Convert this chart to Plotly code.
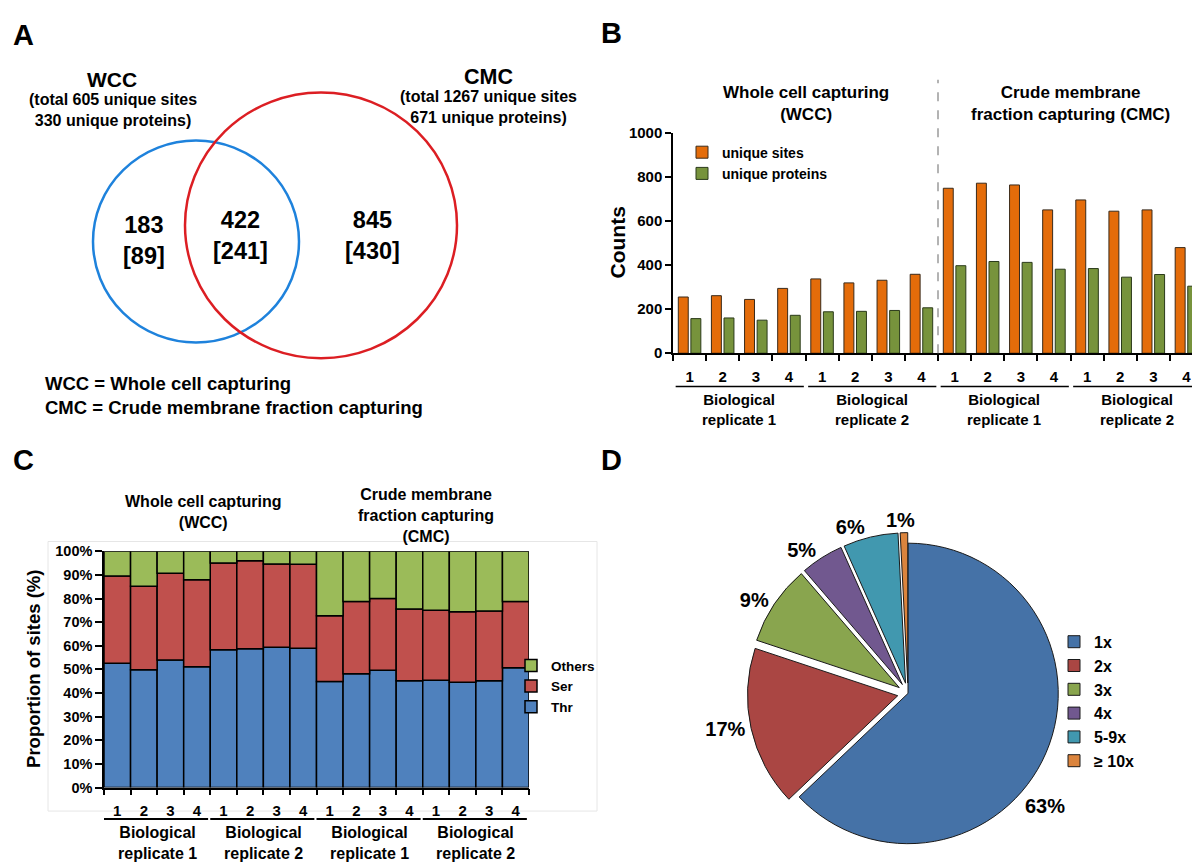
import numpy as np
import plotly.graph_objects as go

W, H = 1200, 864
FONT = "Liberation Sans, Arial, sans-serif"


def px(x):
    return x / W


def py(y):
    return 1 - y / H


# =========================================================
# DATA
# =========================================================
# Panel A: Venn counts, sites [proteins]
wcc_only = (183, 89)
both = (422, 241)
cmc_only = (845, 430)
wcc_total = (605, 330)
cmc_total = (1267, 671)

# Panel B: unique sites / proteins per run
run_labels = ["1", "2", "3", "4"] * 4
group_labels = ["Biological<br>replicate 1", "Biological<br>replicate 2"] * 2
unique_sites = [255, 261, 244, 294, 337, 319, 331, 358,
                748, 771, 763, 650, 695, 644, 650, 479]
unique_proteins = [157, 160, 150, 172, 188, 190, 194, 206,
                   397, 416, 412, 381, 384, 345, 357, 304]

# Panel C: residue proportions (%)
thr = [52.6, 49.9, 54.0, 51.1, 58.3, 58.7, 59.4, 59.0,
       44.9, 48.2, 49.6, 45.2, 45.4, 44.6, 45.2, 50.7]
ser = [36.9, 35.3, 36.7, 36.9, 36.7, 37.3, 35.2, 35.5,
       27.8, 30.5, 30.4, 30.4, 29.6, 29.8, 29.5, 28.0]
others = [10.5, 14.8, 9.3, 12.0, 5.0, 4.0, 5.4, 5.5,
          27.3, 21.3, 20.0, 24.4, 25.0, 25.6, 25.3, 21.3]
pct_ticks = list(range(0, 101, 10))

# Panel D: how often a site was identified
pie_labels = ["1x", "2x", "3x", "4x", "5-9x", "\u2265 10x"]
pie_values = [62.9, 17.2, 8.6, 4.6, 5.9, 0.8]

# =========================================================
# STYLE
# =========================================================
ORANGE, GREEN_B = "#E46C0A", "#77933C"
C_BLUE, C_RED, C_GREEN = "#4F81BD", "#C0504D", "#9BBB59"
pie_colors = ["#4572A7", "#AA4643", "#89A54E", "#71588F", "#4198AF", "#DB843D"]

x_idx = np.arange(len(run_labels))

fig = go.Figure()

# ---------------- Panel B ----------------
fig.add_trace(go.Bar(
    x=x_idx, y=unique_sites, name="unique sites",
    width=0.3, offset=-0.34,
    marker=dict(color=ORANGE, line=dict(color="#3a2a1a", width=1)),
    xaxis="x", yaxis="y", legend="legend"
))
fig.add_trace(go.Bar(
    x=x_idx, y=unique_proteins, name="unique proteins",
    width=0.3, offset=0.04,
    marker=dict(color=GREEN_B, line=dict(color="#2a3a1a", width=1)),
    xaxis="x", yaxis="y", legend="legend"
))

# ---------------- Panel C ----------------
thr_a, ser_a, oth_a = np.array(thr), np.array(ser), np.array(others)
for vals, base, name, col in [
    (thr_a, np.zeros_like(thr_a), "Thr", C_BLUE),
    (ser_a, thr_a, "Ser", C_RED),
    (oth_a, thr_a + ser_a, "Others", C_GREEN),
]:
    fig.add_trace(go.Bar(
        x=x_idx, y=vals, base=base, name=name, width=1,
        marker=dict(color=col, line=dict(color="black", width=1.5)),
        xaxis="x2", yaxis="y2", legend="legend2"
    ))

# ---------------- Panel D ----------------
pie_pct = np.array(pie_values) / sum(pie_values) * 100
fig.add_trace(go.Pie(
    labels=pie_labels, values=pie_values, sort=False,
    direction="clockwise", rotation=0,
    pull=[0, 0.07, 0.07, 0.07, 0.07, 0.07],
    marker=dict(colors=pie_colors, line=dict(color="#1a1a1a", width=1)),
    textposition=["none", "outside", "outside", "outside", "outside", "none"],
    texttemplate="%{percent:.0%}",
    textfont=dict(size=20, family=FONT, color="black", weight="bold"),
    domain=dict(x=[px(736), px(1064)], y=[py(854), py(526)]),
    legend="legend3", hoverinfo="label+percent"
))

# =========================================================
# ANNOTATIONS AND SHAPES
# =========================================================
ann = []
shapes = []


def txt(x, y, text, size, xref="paper", anchor="center", align="center", angle=0):
    ann.append(dict(
        x=x if xref != "paper" else px(x), y=py(y), xref=xref, yref="paper",
        text=text, showarrow=False, xanchor=anchor, yanchor="middle",
        align=align, textangle=angle,
        font=dict(family=FONT, size=size, color="black", weight="bold")
    ))


# panel letters
for letter, lx, ly in [("A", 3, 18), ("B", 591, 16), ("C", 3, 452), ("D", 591, 452)]:
    txt(lx, ly, letter, 29, anchor="left")

# Panel A: Venn
shapes.append(dict(type="circle", xref="paper", yref="paper",
                   x0=px(85), x1=px(291), y0=py(332), y1=py(126),
                   line=dict(color="#1E82DC", width=2.5)))
shapes.append(dict(type="circle", xref="paper", yref="paper",
                   x0=px(177), x1=px(449), y0=py(348), y1=py(77),
                   line=dict(color="#DC1E23", width=2.5)))
txt(104, 64, "WCC", 21)
txt(105, 95, f"(total {wcc_total[0]} unique sites<br>{wcc_total[1]} unique proteins)", 16)
txt(480, 61, "CMC", 21.5)
txt(480, 92, f"(total {cmc_total[0]} unique sites<br>{cmc_total[1]} unique proteins)", 16)
txt(136, 228, f"{wcc_only[0]}<br>[{wcc_only[1]}]", 23.5)
txt(232, 223, f"{both[0]}<br>[{both[1]}]", 23.5)
txt(364, 223, f"{cmc_only[0]}<br>[{cmc_only[1]}]", 23.5)
txt(35, 386, "WCC = Whole cell capturing<br>CMC = Crude membrane fraction capturing", 18.5,
    anchor="left", align="left")

# Panel B texts
txt(3.5, 88, "Whole cell capturing<br>(WCC)", 17, xref="x")
txt(11.5, 88, "Crude membrane<br>fraction capturing (CMC)", 17, xref="x")
txt(609, 230, "Counts", 21, angle=-90)
shapes.append(dict(type="line", xref="x", yref="paper", x0=7.5, x1=7.5,
                   y0=py(343), y1=py(64), line=dict(color="#9a9a9a", width=1.5, dash="dash")))
for g in range(4):
    shapes.append(dict(type="line", xref="x", yref="paper",
                       x0=4 * g - 0.42, x1=4 * g + 3.45, y0=py(377), y1=py(377),
                       line=dict(color="black", width=1.5)))
    txt(4 * g + 1.5, 400, group_labels[g], 15, xref="x")

# Panel C texts
txt(195, 505, "Whole cell capturing<br>(WCC)", 16)
txt(418, 508, "Crude membrane<br>fraction capturing<br>(CMC)", 16)
txt(26, 665, "Proportion of sites (%)", 18.5, angle=-90)
shapes.append(dict(type="rect", xref="paper", yref="paper",
                   x0=px(40), x1=px(589), y0=py(810), y1=py(535),
                   line=dict(color="#e6e6e6", width=1), layer="below"))
for g in range(4):
    shapes.append(dict(type="line", xref="x2", yref="paper",
                       x0=4 * g - 0.5, x1=4 * g + 3.42, y0=py(818), y1=py(818),
                       line=dict(color="black", width=2)))
    txt(4 * g + 1.5, 843, group_labels[g], 16, xref="x2")

# Panel D: labels placed off the slice midpoint, as in the original
txt(1037, 805, f"{pie_pct[0]:.0f}%", 20)
txt(892, 513, f"{pie_pct[5]:.0f}%", 20)

# =========================================================
# LAYOUT
# =========================================================
boundaries = [i - 0.5 for i in range(len(run_labels) + 1)]
cat_axis = dict(
    range=[-0.5, 15.5], tickmode="array", tickvals=list(x_idx), ticktext=run_labels,
    ticks="outside", ticklen=9, tickcolor="rgba(0,0,0,0)",
    showline=True, linecolor="black", linewidth=1.5, showgrid=False, zeroline=False,
    minor=dict(tickvals=boundaries, ticks="outside", ticklen=6,
               tickcolor="black", tickwidth=1.5, showgrid=False),
    fixedrange=True
)

fig.update_layout(
    width=W, height=H,
    margin=dict(l=0, r=0, t=0, b=0),
    paper_bgcolor="white", plot_bgcolor="white",
    font=dict(family=FONT, color="black", size=14, weight="bold"),
    barmode="overlay",
    xaxis=dict(cat_axis, domain=[px(665), px(1195)], anchor="y",
               tickfont=dict(size=15, weight="bold")),
    yaxis=dict(domain=[py(343), py(118)], anchor="x", range=[0, 1000],
               tickvals=[0, 200, 400, 600, 800, 1000], ticks="outside", ticklen=6,
               tickwidth=1.5, tickcolor="black", showline=True, linecolor="black",
               linewidth=1.5, showgrid=False, zeroline=False,
               tickfont=dict(size=15, weight="bold")),
    xaxis2=dict(cat_axis, domain=[px(96), px(521)], anchor="y2",
                tickfont=dict(size=15, weight="bold")),
    yaxis2=dict(domain=[py(786), py(545)], anchor="x2", range=[0, 100],
                tickmode="array", tickvals=pct_ticks,
                ticktext=[f"{v}%" for v in pct_ticks], ticks="outside",
                ticklen=7, tickwidth=1.5, tickcolor="black", showline=True,
                linecolor="black", linewidth=1.5, showgrid=False, zeroline=False,
                tickfont=dict(size=14.5, weight="bold")),
    legend=dict(x=px(674), y=py(122), xanchor="left", yanchor="top",
                bgcolor="rgba(0,0,0,0)", font=dict(size=14, weight="bold"),
                tracegroupgap=0),
    legend2=dict(x=px(503), y=py(646), xanchor="left", yanchor="top",
                 bgcolor="rgba(0,0,0,0)", font=dict(size=13.5, weight="bold"),
                 traceorder="reversed"),
    legend3=dict(x=px(1046), y=py(620), xanchor="left", yanchor="top",
                 bgcolor="rgba(0,0,0,0)", font=dict(size=16, weight="bold")),
    annotations=ann,
    shapes=shapes,
)

fig.write_html("out.html")
